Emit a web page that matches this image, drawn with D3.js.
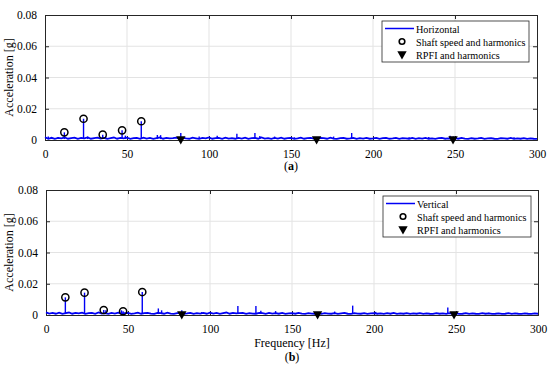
<!DOCTYPE html>
<html>
<head>
<meta charset="utf-8">
<script src="https://cdn.jsdelivr.net/npm/d3@7"></script>
<style>
  body { margin: 0; background: #fff; }
  svg text { font-family: "Liberation Serif", "Times New Roman", serif !important; fill: #000; }
</style>
</head>
<body>
<div id="chart"></div>
<script>
// frequency axis ticks, accel ticks
var xTicks = [0, 50, 100, 150, 200, 250, 300];
var yTicks = [0, 0.02, 0.04, 0.06, 0.08];
var yTickLabels = ["0", "0.02", "0.04", "0.06", "0.08"];

// noise floor, one value every 2 Hz (0..300 Hz)
var floorH = [0.0018,0.0008,0.0014,0.0007,0.0013,0.0010,0.0016,0.0008,0.0012,0.0015,
  0.0007,0.0013,0.0010,0.0017,0.0008,0.0012,0.0015,0.0009,0.0013,0.0007,
  0.0012,0.0016,0.0008,0.0013,0.0010,0.0015,0.0007,0.0012,0.0014,0.0008,
  0.0015,0.0009,0.0013,0.0007,0.0012,0.0016,0.0008,0.0013,0.0010,0.0012,
  0.0015,0.0007,0.0013,0.0010,0.0008,0.0015,0.0011,0.0007,0.0013,0.0010,
  0.0016,0.0008,0.0012,0.0013,0.0007,0.0015,0.0009,0.0012,0.0008,0.0014,
  0.0009,0.0015,0.0007,0.0012,0.0013,0.0008,0.0016,0.0009,0.0012,0.0007,
  0.0013,0.0009,0.0015,0.0008,0.0012,0.0013,0.0007,0.0010,0.0015,0.0008,
  0.0012,0.0013,0.0009,0.0007,0.0013,0.0012,0.0008,0.0015,0.0009,0.0007,
  0.0012,0.0013,0.0008,0.0010,0.0014,0.0007,0.0012,0.0009,0.0013,0.0008,
  0.0010,0.0013,0.0007,0.0012,0.0014,0.0008,0.0010,0.0013,0.0007,0.0012,
  0.0010,0.0008,0.0013,0.0007,0.0012,0.0009,0.0014,0.0008,0.0010,0.0007,
  0.0012,0.0013,0.0008,0.0010,0.0007,0.0012,0.0008,0.0013,0.0009,0.0007,
  0.0012,0.0008,0.0010,0.0013,0.0007,0.0010,0.0012,0.0008,0.0007,0.0012,
  0.0010,0.0008,0.0013,0.0007,0.0010,0.0008,0.0012,0.0007,0.0010,0.0008,
  0.0007];
var floorV = [0.0017,0.0009,0.0013,0.0008,0.0015,0.0007,0.0012,0.0016,0.0008,0.0013,
  0.0010,0.0015,0.0007,0.0012,0.0014,0.0008,0.0016,0.0009,0.0012,0.0007,
  0.0013,0.0009,0.0015,0.0008,0.0012,0.0013,0.0007,0.0010,0.0015,0.0008,
  0.0012,0.0013,0.0009,0.0007,0.0013,0.0012,0.0008,0.0015,0.0009,0.0007,
  0.0012,0.0013,0.0008,0.0010,0.0014,0.0007,0.0012,0.0009,0.0013,0.0008,
  0.0015,0.0009,0.0013,0.0007,0.0012,0.0016,0.0008,0.0013,0.0010,0.0012,
  0.0013,0.0007,0.0012,0.0009,0.0008,0.0013,0.0012,0.0007,0.0013,0.0009,
  0.0012,0.0008,0.0013,0.0007,0.0010,0.0012,0.0008,0.0013,0.0009,0.0007,
  0.0012,0.0009,0.0008,0.0013,0.0007,0.0012,0.0009,0.0008,0.0012,0.0007,
  0.0010,0.0013,0.0008,0.0007,0.0012,0.0009,0.0008,0.0012,0.0007,0.0010,
  0.0012,0.0008,0.0010,0.0007,0.0012,0.0008,0.0013,0.0007,0.0010,0.0008,
  0.0012,0.0007,0.0010,0.0008,0.0012,0.0007,0.0010,0.0008,0.0007,0.0012,
  0.0008,0.0010,0.0007,0.0012,0.0008,0.0010,0.0007,0.0008,0.0012,0.0007,
  0.0010,0.0008,0.0007,0.0012,0.0008,0.0010,0.0007,0.0008,0.0010,0.0007,
  0.0008,0.0012,0.0007,0.0010,0.0008,0.0007,0.0010,0.0008,0.0007,0.0010,
  0.0008];

// spectral lines [Hz, g]
var peaksH = [[2,0.0022],[8,0.0020],[11.8,0.0049],[23.5,0.0136],[26,0.0022],[35.2,0.0034],
  [37,0.0022],[47,0.0062],[49,0.0028],[58.7,0.0120],[68.5,0.0032],[70.5,0.0031],[82.8,0.0045],
  [94,0.0022],[105,0.0028],[117,0.0040],[128,0.0045],[131,0.0025],[140,0.0022],[152,0.0018],
  [176,0.0022],[187,0.0045],[222,0.0018],[234,0.0020],[247,0.0028],[249,0.0022],[286,0.0018]];
var peaksV = [[11.8,0.0113],[23.5,0.0143],[35.2,0.0032],[36.5,0.0030],[46,0.0030],[47,0.0024],
  [58.7,0.0147],[68.5,0.0042],[70.5,0.0030],[82.8,0.0030],[95,0.0020],[117,0.0058],[128,0.0058],
  [131,0.0028],[140,0.0025],[176,0.0022],[187,0.0060],[201,0.0020],[245,0.0048],[270,0.0015]];

// markers
var shaftH = [[11.8,0.0049],[23.5,0.0136],[35.2,0.0034],[47,0.0062],[58.7,0.0120]];
var shaftV = [[11.8,0.0113],[23.5,0.0143],[35.2,0.0032],[47,0.0024],[58.7,0.0147]];
var rpfi = [[82.8,0],[165.6,0],[248.8,0]];

var legendLabels = ["Shaft speed and harmonics", "RPFI and harmonics"];

var width = 550, height = 371;
var serif = "Liberation Serif";
var svg = d3.select("#chart").append("svg")
  .attr("width", width).attr("height", height)
  .attr("font-family", serif);

var panels = [
  {name: "Horizontal", floor: floorH, peaks: peaksH, shaft: shaftH, left: 45, right: 537, top: 15, bottom: 140,
    legend: {x: 382, y: 21, w: 147, h: 41}, caption: "a", capY: 170, xlabel: false},
  {name: "Vertical", floor: floorV, peaks: peaksV, shaft: shaftV, left: 46, right: 538, top: 190, bottom: 315,
    legend: {x: 383, y: 196, w: 148, h: 41}, caption: "b", capY: 361, xlabel: true}
];

var blue = "#0000f5";
var tri = d3.symbol().type(d3.symbolTriangle).size(38);

panels.forEach(function(p) {
  var x = d3.scaleLinear().domain([0, 300]).range([p.left, p.right]);
  var y = d3.scaleLinear().domain([0, 0.08]).range([p.bottom, p.top]);
  var g = svg.append("g");

  // grid
  g.selectAll(".gx").data(xTicks.slice(1, -1)).enter().append("line")
    .attr("x1", d => x(d)).attr("x2", d => x(d)).attr("y1", p.top).attr("y2", p.bottom)
    .attr("stroke", "#e3e3e3").attr("stroke-width", 1);
  g.selectAll(".gy").data(yTicks.slice(1, -1)).enter().append("line")
    .attr("x1", p.left).attr("x2", p.right).attr("y1", d => y(d)).attr("y2", d => y(d))
    .attr("stroke", "#e3e3e3").attr("stroke-width", 1);

  // axes (MATLAB style inward ticks, box)
  var axB = g.append("g").attr("transform", "translate(0," + p.bottom + ")")
    .call(d3.axisBottom(x).tickValues(xTicks).tickSize(-4).tickPadding(10));
  var axT = g.append("g").attr("transform", "translate(0," + p.top + ")")
    .call(d3.axisTop(x).tickValues(xTicks).tickSize(-4).tickFormat(""));
  var axL = g.append("g").attr("transform", "translate(" + p.left + ",0)")
    .call(d3.axisLeft(y).tickValues(yTicks).tickSize(-4).tickPadding(8)
      .tickFormat((d, i) => yTickLabels[i]));
  var axR = g.append("g").attr("transform", "translate(" + p.right + ",0)")
    .call(d3.axisRight(y).tickValues(yTicks).tickSize(-4).tickFormat(""));
  [axB, axT, axL, axR].forEach(function(a) {
    a.attr("font-family", serif).attr("font-size", 11.5);
    a.select(".domain").attr("stroke", "#262626");
    a.selectAll(".tick line").attr("stroke", "#262626");
    a.selectAll("text").attr("fill", "#000");
  });

  // noise floor line
  var line = d3.line().x((d, i) => x(i * 2)).y(d => y(d));
  g.append("path").datum(p.floor).attr("d", line)
    .attr("fill", "none").attr("stroke", blue).attr("stroke-width", 1.8);

  // spectral lines
  g.selectAll(".pk").data(p.peaks).enter().append("line")
    .attr("x1", d => x(d[0])).attr("x2", d => x(d[0]))
    .attr("y1", y(0.0006)).attr("y2", d => y(d[1]))
    .attr("stroke", blue).attr("stroke-width", 1.4);

  // shaft markers
  g.selectAll(".sh").data(p.shaft).enter().append("circle")
    .attr("cx", d => x(d[0])).attr("cy", d => y(d[1])).attr("r", 3.6)
    .attr("fill", "none").attr("stroke", "#000").attr("stroke-width", 1.5);

  // RPFI markers
  g.selectAll(".rp").data(rpfi).enter().append("path")
    .attr("d", tri)
    .attr("transform", d => "translate(" + x(d[0]) + "," + (y(d[1]) - 1) + ") rotate(180)")
    .attr("fill", "#000");

  // y label
  svg.append("text")
    .attr("transform", "translate(13," + ((p.top + p.bottom) / 2) + ") rotate(-90)")
    .attr("text-anchor", "middle").attr("font-size", 12)
    .text("Acceleration [g]");

  if (p.xlabel) {
    svg.append("text").attr("x", (p.left + p.right) / 2).attr("y", 347)
      .attr("text-anchor", "middle").attr("font-size", 12).text("Frequency [Hz]");
  }

  // caption
  var cap = svg.append("text").attr("x", (p.left + p.right) / 2).attr("y", p.capY)
    .attr("text-anchor", "middle").attr("font-size", 12);
  cap.append("tspan").text("(");
  cap.append("tspan").attr("font-weight", "bold").text(p.caption);
  cap.append("tspan").text(")");

  // legend
  var L = p.legend;
  var lg = svg.append("g").attr("transform", "translate(" + L.x + "," + L.y + ")");
  lg.append("rect").attr("width", L.w).attr("height", L.h)
    .attr("fill", "#fff").attr("stroke", "#262626").attr("stroke-width", 0.8);
  lg.append("line").attr("x1", 3).attr("x2", 32).attr("y1", 7.5).attr("y2", 7.5)
    .attr("stroke", blue).attr("stroke-width", 1.5);
  lg.append("circle").attr("cx", 20).attr("cy", 20.5).attr("r", 2.8)
    .attr("fill", "none").attr("stroke", "#000").attr("stroke-width", 1.6);
  lg.append("path").attr("d", tri)
    .attr("transform", "translate(20,33) rotate(180)").attr("fill", "#000");
  var labels = [p.name].concat(legendLabels);
  lg.selectAll(".lt").data(labels).enter().append("text")
    .attr("x", 34).attr("y", (d, i) => 11.5 + i * 13)
    .attr("font-size", 10.2).text(d => d);
});
</script>
</body>
</html>
